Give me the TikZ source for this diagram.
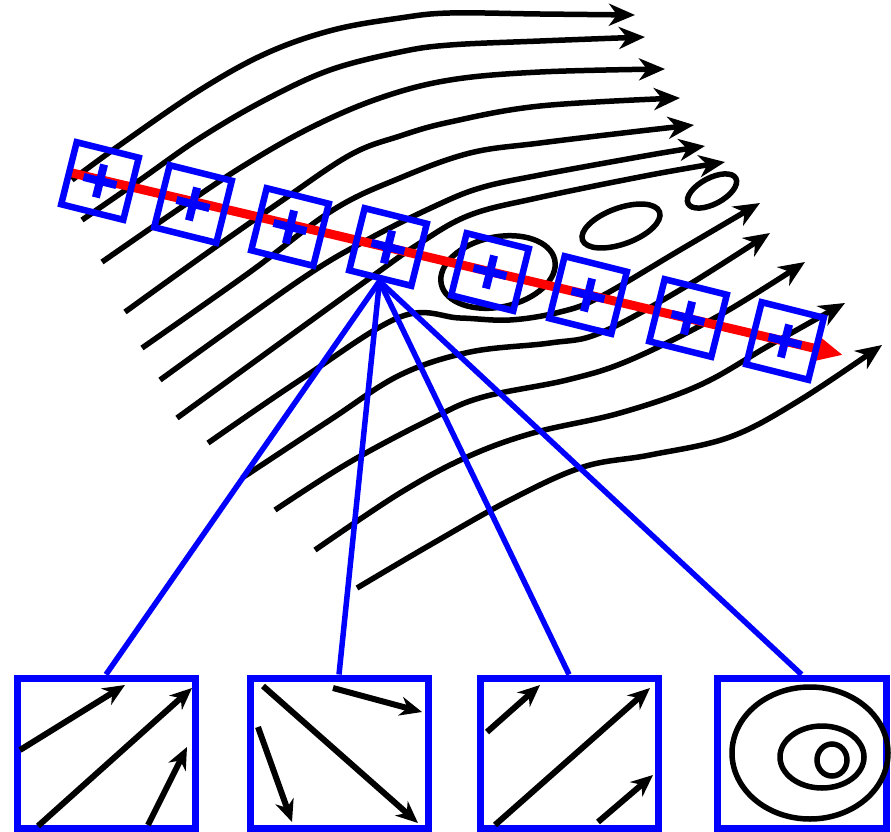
\documentclass[tikz,border=0pt]{standalone}
\usetikzlibrary{arrows.meta,shapes.misc}

\begin{document}
\begin{tikzpicture}[x=1pt, y=-1pt,
    flow/.style={line width=5.5pt, -{Stealth[length=26pt, width=22pt, inset=8pt]}},
    eddy/.style={line width=5.5pt},
    track/.style={red, line width=9pt, -{Triangle[length=28pt, width=24pt]}},
    probe/.style={draw=blue, line width=6.5pt, minimum size=64pt, inner sep=0pt, rotate=-14},
    probecross/.style={cross out, draw=blue, line width=8pt, minimum size=16pt, inner sep=0pt, rotate=31},
    zoombox/.style={draw=blue, line width=7pt, minimum height=150pt, inner sep=0pt},
    fan/.style={blue, line width=5.5pt},
    detail/.style={line width=6pt, -{Stealth[length=22pt, width=19pt, inset=7pt]}}
  ]
  \useasboundingbox (0,0) rectangle (891,832);

  % streamlines
  \draw[flow] plot[smooth, tension=0.6] coordinates {(72,180) (117,147) (200,90) (267,53) (333,30) (400,18) (450,13) (540,14) (635,15)};
  \draw[flow] plot[smooth, tension=0.6] coordinates {(82,220) (140,180) (200,138) (265,100) (330,70) (400,52) (450,45) (540,41) (645,37)};
  \draw[flow] plot[smooth, tension=0.6] coordinates {(102,262) (170,215) (240,168) (310,128) (380,98) (450,80) (540,72) (665,69)};
  \draw[flow] plot[smooth, tension=0.6] coordinates {(125,312) (200,258) (280,202) (350,155) (400,136) (450,122) (540,106) (680,98)};
  \draw[flow] plot[smooth, tension=0.6] coordinates {(142,348) (250,272) (333,210) (400,178) (470,153) (540,143) (640,131) (694,125)};
  \draw[flow] plot[smooth, tension=0.6] coordinates {(160,380) (300,280) (367,240) (433,207) (480,188) (540,175) (650,155) (705,146)};
  \draw[flow] plot[smooth, tension=0.6] coordinates {(177,418) (363,283) (420,243) (470,215) (537,198) (650,175) (725,162)};
  \draw[flow] plot[smooth, tension=0.6] coordinates {(208,443) (300,380) (400,317) (460,318) (510,320) (560,312) (600,297) (680,250) (760,203)};
  \draw[flow] plot[smooth, tension=0.6] coordinates {(242,478) (330,420) (400,375) (470,352) (550,343) (600,333) (680,290) (770,233)};
  \draw[flow] plot[smooth, tension=0.6] coordinates {(275,510) (350,462) (433,418) (483,397) (567,380) (630,360) (720,315) (805,262)};
  \draw[flow] plot[smooth, tension=0.6] coordinates {(315,550) (400,493) (467,457) (533,433) (620,413) (700,385) (770,345) (845,303)};
  \draw[flow] plot[smooth, tension=0.6] coordinates {(357,588) (430,545) (510,500) (583,467) (650,455) (730,437) (800,400) (882,345)};

  \draw[eddy, rotate around={12:(498,272)}] (498,272) ellipse (58 and 35);
  \draw[eddy, rotate around={20:(621,226)}] (621,226) ellipse (41 and 18);
  \draw[eddy, rotate around={28:(712,191)}] (712,191) ellipse (27 and 13);

  % probes along the track
  \coordinate (trackstart) at (68,172);
  \coordinate (trackend) at (843,355);
  \draw[track] (trackstart) -- (trackend);
  \foreach \i/\x/\y in {1/100/181, 2/193/204, 3/290/227, 4/388/247,
                        5/490/272, 6/588/295, 7/688/318, 8/785/341} {
    \node[probe] (b\i) at (\x,\y) {};
    \node[probecross] (c\i) at (\x,\y) {};
  }

  % zoomed windows
  \node[zoombox, minimum width=178pt] (zA) at (106,753) {};
  \node[zoombox, minimum width=178pt] (zB) at (339,753) {};
  \node[zoombox, minimum width=178pt] (zC) at (569,753) {};
  \node[zoombox, minimum width=169pt] (zD) at (801.5,753) {};

  \draw[fan] (b4.south) -- (zA.north);
  \draw[fan] (b4.south) -- (zB.north);
  \draw[fan] (b4.south) -- (zC.north);
  \draw[fan] (b4.south) -- (zD.north);

  \draw[detail] (20,750) -- (125,685);
  \draw[detail] (38,826) -- (192,688);
  \draw[detail] (148,825) -- (187,747);

  \draw[detail] (263,686) -- (418,823);
  \draw[detail] (258,727) -- (292,822);
  \draw[detail] (333,688) -- (422,712);

  \draw[detail] (487,732) -- (540,685);
  \draw[detail] (495,825) -- (650,688);
  \draw[detail] (598,822) -- (653,775);

  \draw[eddy] (810,753) ellipse (78 and 66);
  \draw[eddy] (822,757) ellipse (42 and 31);
  \draw[eddy] (832,760) ellipse (15 and 16);
\end{tikzpicture}
\end{document}
